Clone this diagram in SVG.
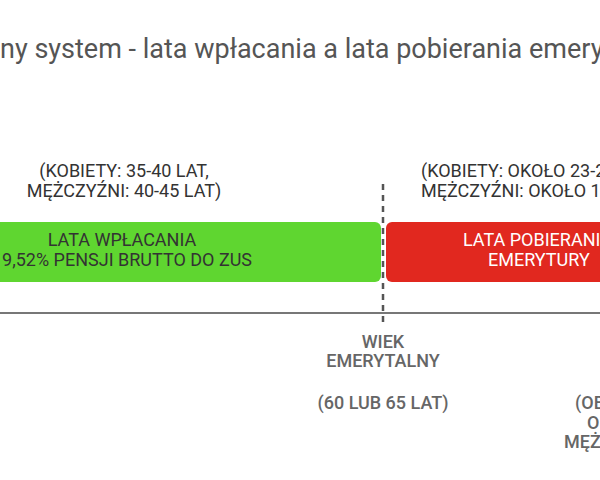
<svg xmlns="http://www.w3.org/2000/svg" width="600" height="480" viewBox="0 0 600 480">
<style>
text{font-family:Roboto,"Liberation Sans",sans-serif;font-size:18px}
.lab{fill:#333;text-anchor:middle}
.ax{fill:#666;text-anchor:middle;font-weight:500}
</style>
<rect width="600" height="480" fill="#fff"/>
<text x="0" y="58" style="font-size:27px;fill:#555">ny system - lata wpłacania a lata pobierania emerytury</text>
<g id="connectors">
<line x1="0" y1="313" x2="600" y2="313" stroke="#777" stroke-width="2"/>
<line x1="383" y1="184" x2="383" y2="326" stroke="#555" stroke-width="2.5" stroke-dasharray="6,5"/>
</g>
<g id="green">
<rect x="-20" y="222" width="401" height="60" rx="6" fill="#5fd630"/>
<text class="lab" x="122" y="246">LATA WPŁACANIA</text>
<text class="lab" x="122" y="266">19,52% PENSJI BRUTTO DO ZUS</text>
<text class="lab" x="124" y="177">(KOBIETY: 35-40 LAT,</text>
<text class="lab" x="124" y="197">MĘŻCZYŹNI: 40-45 LAT)</text>
</g>
<g id="red">
<rect x="386" y="222" width="260" height="60" rx="6" fill="#e1281f"/>
<text x="463" y="246" style="fill:#fff">LATA POBIERANIA</text>
<text x="488" y="266" style="fill:#fff">EMERYTURY</text>
<text x="421" y="177" style="fill:#333">(KOBIETY: OKOŁO 23-25 LAT,</text>
<text x="421" y="197" style="fill:#333">MĘŻCZYŹNI: OKOŁO 15 LAT)</text>
</g>
<g id="age">
<text class="ax" x="383" y="348">WIEK</text>
<text class="ax" x="383" y="367">EMERYTALNY</text>
<text class="ax" x="383" y="409">(60 LUB 65 LAT)</text>
</g>
<g id="right">
<text x="575" y="409" style="fill:#666;font-weight:500">(OBECNIE</text>
<text x="587" y="429" style="fill:#666;font-weight:500">OKOŁO</text>
<text x="564" y="448" style="fill:#666;font-weight:500">MĘŻCZYŹNI</text>
</g>
</svg>
